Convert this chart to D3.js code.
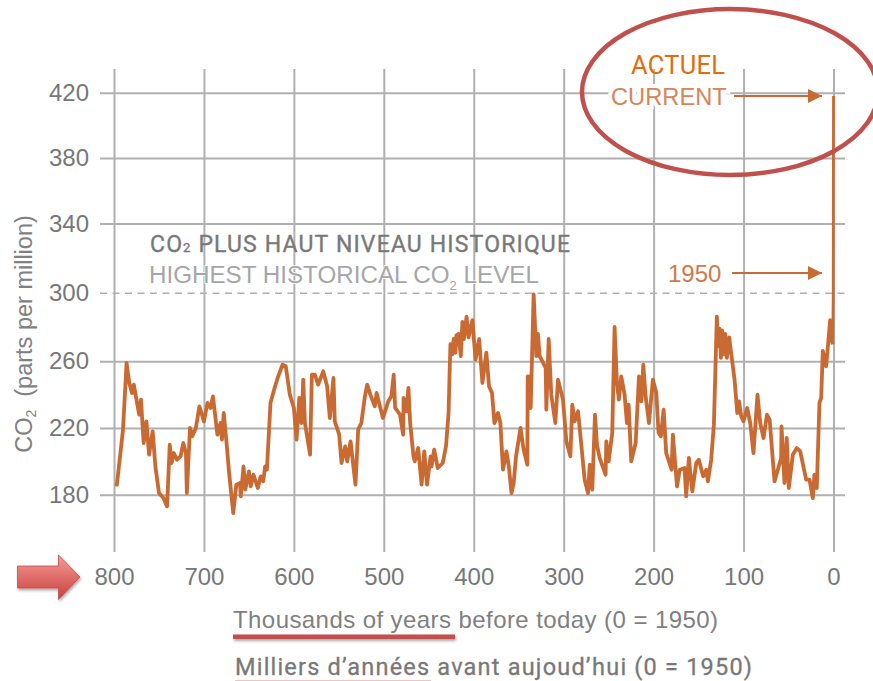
<!DOCTYPE html>
<html>
<head>
<meta charset="utf-8">
<script src="https://cdn.jsdelivr.net/npm/d3@7"></script>
<style>
  html, body { margin: 0; padding: 0; background: #fff; }
  svg { display: block; }
  .sans { font-family: "Liberation Sans", Arial, sans-serif; }
  .din { font-family: Roboto, sans-serif; }
</style>
</head>
<body>
<svg id="chart" width="873" height="681"></svg>
<script>
// Values: thousands of years before 1950, and CO2 in ppm
const kyears = [
  797, 790, 786, 783, 780, 778, 775, 772, 770, 767, 764, 761, 757, 754, 750, 745, 741, 738, 736, 733.5,
  730, 726, 723, 720, 719, 715.5, 713, 709, 705, 700, 696, 692.6, 690, 685, 681.5, 680, 678, 675, 672, 667.4,
  664, 660, 659, 656, 654, 650, 648, 645, 640, 637, 634, 632, 630, 626, 622, 617.4, 612.6, 609, 604.5, 600,
  597, 594, 591.5, 589.6, 587.7, 582, 580, 576.7, 573, 567.4, 563, 560, 556, 554.5, 549.6, 547, 543, 540.7, 537, 531.5,
  528.5, 525, 521, 518.5, 515, 510, 508, 501, 495, 491.6, 489, 487.4, 482, 478.5, 478, 475, 472.6, 470.7, 467, 465.6,
  461.8, 458, 455, 452, 448, 447, 444, 440, 434.5, 430.9, 428, 427,
  425.9, 424, 422.3, 420.4, 419.3, 417, 414.4, 412.6, 411, 408, 405.8,
  401.5, 398, 394, 390.4, 386, 383, 379.7, 377, 373, 370.4, 367.5, 363.7, 361, 358, 355.6, 353, 348, 344.5, 340.4, 340,
  338.9, 337.8, 336.7, 333.4, 330.4, 328.6, 326.7, 320, 319.3, 316.7, 313.8, 309.3, 306.3, 300.8, 297, 292.6, 290.4, 287.8, 284, 276.7, 273, 271,
  268.2, 265.2, 263, 260, 253.4, 252.6, 250, 246, 243.4, 240.8, 238.6, 236, 232.3, 229.7, 227.8, 224.9, 220, 216.3, 213.7, 211.5,
  208.9, 205.2, 200.8, 197, 194.5, 191.9, 188.9, 186, 180, 178.6, 174, 171, 165.6, 163.8, 160.8, 157, 152.6, 149.7, 145, 141.5,
  139.7, 136, 133, 129.7, 128.2, 126.7, 125.2, 123.8, 121.9, 120.4, 118.6, 116, 110, 107, 105, 102.6, 100, 96, 92.6, 89, 84.5, 81.5,
  77.8, 74, 71, 65.6, 58.2, 57.8, 54.5, 52, 49.7, 45.2, 40.8, 37, 30.4, 26.7, 23, 21.2, 18.6, 15.6, 13.7, 11.9,
  8.2, 3.7, 1.5, 0.8, 0.3, 0
];
const ppm = [
  185, 219, 259, 247, 241, 246, 237, 228, 237, 211, 224, 204, 218, 197, 181, 178, 173, 210, 199, 205,
  201, 203, 211, 205, 181, 220, 215, 220, 233, 224, 235, 232, 239, 216, 223, 213, 229, 212, 193, 169,
  186, 187, 179, 197, 183, 194, 185, 192, 184, 191, 188, 197, 195, 235, 243, 251, 258, 257, 240, 232,
  213, 238, 223, 249, 223, 204, 252, 252, 246, 254, 245, 226, 250, 224, 216, 199, 209, 200, 212, 186,
  219, 223, 239, 246, 240, 233, 241, 226, 236, 239, 252, 232, 228, 216, 238, 230, 244, 223, 203, 200,
  208, 186, 206, 186, 203, 197, 207, 196, 199, 209, 229, 250,
  270, 264, 273, 265, 275, 276, 263, 283, 273, 286, 274,
  284, 261, 273, 247, 265, 245, 241, 223, 229, 223, 195, 206, 197, 181, 187, 203, 220, 207, 198, 251,
  232, 251, 232, 299, 263, 276, 263, 256, 231, 273, 240, 223, 249, 237, 212, 203, 234, 224, 230, 189, 181, 198,
  183, 228, 210, 202, 192, 212, 200, 217, 280, 247, 237, 251, 240, 223, 234, 200, 211, 251, 236, 258,
  239, 223, 249, 241, 217, 215, 231, 205, 195, 216, 185, 195, 196, 179, 202, 182, 199, 201, 191, 195,
  188, 201, 222, 286, 269, 279, 262, 278, 264, 276, 262, 274, 249, 229, 236, 227, 224, 232, 223, 205, 240, 223,
  214, 228, 225, 188, 202, 221, 187, 214, 184, 204, 208, 206, 189, 189, 178, 192, 184, 235, 238, 266,
  257, 284, 271, 270, 300, 418
];
const xTicks = [800, 700, 600, 500, 400, 300, 200, 100, 0];
const yTicks = [180, 220, 260, 300, 340, 380, 420];

const grey = "#b0b0b0";
const orange = "#c96a33";
const red = "#c0504d";

const svg = d3.select("#chart");

const xScale = d3.scaleLinear().domain([800, 0]).range([114, 833.5]);
// the source picture is not quite linear in y, so one stop per gridline
const yScale = d3.scaleLinear().domain(yTicks).range([494.7, 428, 361.3, 292.7, 223.5, 158, 92.7]);

const defs = svg.append("defs");
const shadow = defs.append("filter").attr("id", "shadow").attr("x", "-20%").attr("y", "-60%").attr("width", "140%").attr("height", "300%");
shadow.append("feDropShadow").attr("dx", 1).attr("dy", 2).attr("stdDeviation", 1.5).attr("flood-color", "#000").attr("flood-opacity", 0.35);
const grad = defs.append("linearGradient").attr("id", "arrowFill").attr("x1", 0).attr("y1", 0).attr("x2", 0).attr("y2", 1);
grad.append("stop").attr("offset", "0%").attr("stop-color", "#f79a96");
grad.append("stop").attr("offset", "100%").attr("stop-color", "#c8403c");
defs.append("marker").attr("id", "head").attr("viewBox", "0 0 10 10").attr("refX", 10).attr("refY", 5)
  .attr("markerUnits", "userSpaceOnUse").attr("markerWidth", 20).attr("markerHeight", 14).attr("orient", "auto")
  .append("path").attr("d", "M0,0L10,5L0,10Z").attr("fill", orange);

// Axes double as the grid
const xAxis = d3.axisBottom(xScale).tickValues(xTicks).tickSize(-483).tickSizeOuter(0).tickPadding(16);
const yAxis = d3.axisLeft(yScale).tickValues(yTicks).tickSize(-745).tickSizeOuter(0).tickPadding(11);

const gx = svg.append("g").attr("class", "sans").attr("transform", "translate(0,552)").call(xAxis);
const gy = svg.append("g").attr("class", "sans").attr("transform", "translate(100,0)").call(yAxis);

[gx, gy].forEach((g) => {
  g.select(".domain").remove();
  g.attr("font-family", null).attr("font-size", null);
  g.selectAll(".tick line").attr("stroke", grey).attr("stroke-width", 2);
  g.selectAll(".tick text").attr("fill", "#777").style("font-size", "24px");
});

// 300 is the dashed "highest level" line
gy.selectAll(".tick line")
  .filter((d) => d === 300)
  .attr("stroke-width", 1.6)
  .attr("stroke-dasharray", "7,5.5");

// Data line: the ice core part is drawn heavier than the modern spike
const points = d3.zip(kyears, ppm);
const line = d3.line().x((d) => xScale(d[0])).y((d) => yScale(d[1]));
svg.append("path")
  .datum(points.slice(0, -2))
  .attr("d", line)
  .attr("fill", "none")
  .attr("stroke", orange)
  .attr("stroke-width", 3.8)
  .attr("stroke-linejoin", "round");
svg.append("path")
  .datum(points.slice(-3))
  .attr("d", line)
  .attr("fill", "none")
  .attr("stroke", orange)
  .attr("stroke-width", 2.8);

// Y axis title
const yTitle = svg.append("text").attr("class", "sans")
  .attr("transform", "translate(32,334) rotate(-90)")
  .attr("text-anchor", "middle")
  .attr("fill", "#808080")
  .style("font-size", "23.5px");
yTitle.append("tspan").text("CO");
yTitle.append("tspan").attr("dy", 4).style("font-size", "14px").text("2");
yTitle.append("tspan").attr("dy", -4).text("\u00a0 (parts per million)");

// Annotations
const t1 = svg.append("text").attr("class", "din").attr("x", 150).attr("y", 252)
  .attr("fill", "#787878").attr("stroke", "#787878").attr("stroke-width", 0.35).style("font-size", "23px")
  .attr("textLength", 420).attr("lengthAdjust", "spacing");
t1.append("tspan").text("CO");
t1.append("tspan").style("font-size", "13px").text("2");
t1.append("tspan").text(" PLUS HAUT NIVEAU HISTORIQUE");

const t2 = svg.append("text").attr("class", "sans").attr("x", 149).attr("y", 283)
  .attr("fill", "#a6a6a6").style("font-size", "24.2px")
  .attr("stroke", "#fff").attr("stroke-width", 1.5).style("paint-order", "stroke");
t2.append("tspan").text("HIGHEST HISTORICAL CO");
t2.append("tspan").attr("dy", 7).style("font-size", "13px").text("2");
t2.append("tspan").attr("dy", -7).text(" LEVEL");

svg.append("text").attr("class", "din").attr("x", 631).attr("y", 74)
  .attr("fill", "#e36c0a").style("font-size", "25.5px")
  .attr("textLength", 94).attr("lengthAdjust", "spacing").text("ACTUEL");

svg.append("text").attr("class", "sans").attr("x", 611).attr("y", 104.5)
  .attr("fill", "#d8845a").style("font-size", "23.7px")
  .attr("stroke", "#fff").attr("stroke-width", 8).style("paint-order", "stroke")
  .text("CURRENT");

svg.append("text").attr("class", "sans").attr("x", 668).attr("y", 282)
  .attr("fill", "#cf7a4c").style("font-size", "24px").text("1950");

[[734, 96], [732, 273]].forEach(([x0, y0]) => {
  svg.append("line").attr("x1", x0).attr("y1", y0).attr("x2", 822).attr("y2", y0)
    .attr("stroke", orange).attr("stroke-width", 2).attr("marker-end", "url(#head)");
});

// Circle around the current value
svg.append("ellipse").attr("cx", 730).attr("cy", 92).attr("rx", 148).attr("ry", 83)
  .attr("fill", "none").attr("stroke", red).attr("stroke-width", 4.5);

// Red block arrow
svg.append("path")
  .attr("d", "M17.5,566H58.5V555L80,577L58.5,599.5V588H17.5Z")
  .attr("fill", "url(#arrowFill)")
  .attr("stroke", "#c0504d").attr("stroke-width", 0.8)
  .attr("filter", "url(#shadow)");

// X axis titles
svg.append("text").attr("class", "sans").attr("x", 233).attr("y", 628)
  .attr("fill", "#808080").style("font-size", "24px")
  .attr("textLength", 485).attr("lengthAdjust", "spacing")
  .text("Thousands of years before today (0 = 1950)");

svg.append("rect").attr("x", 233).attr("y", 634.5).attr("width", 222).attr("height", 4.5)
  .attr("fill", red).attr("filter", "url(#shadow)");

svg.append("text").attr("class", "din").attr("x", 235).attr("y", 675)
  .attr("fill", "#787878").attr("stroke", "#787878").attr("stroke-width", 0.3).style("font-size", "23.5px")
  .attr("textLength", 517).attr("lengthAdjust", "spacing")
  .text("Milliers d’années avant aujoud’hui (0 = 1950)");

svg.append("rect").attr("x", 235).attr("y", 680).attr("width", 196).attr("height", 1)
  .attr("fill", "#eec4c4");
</script>
</body>
</html>
